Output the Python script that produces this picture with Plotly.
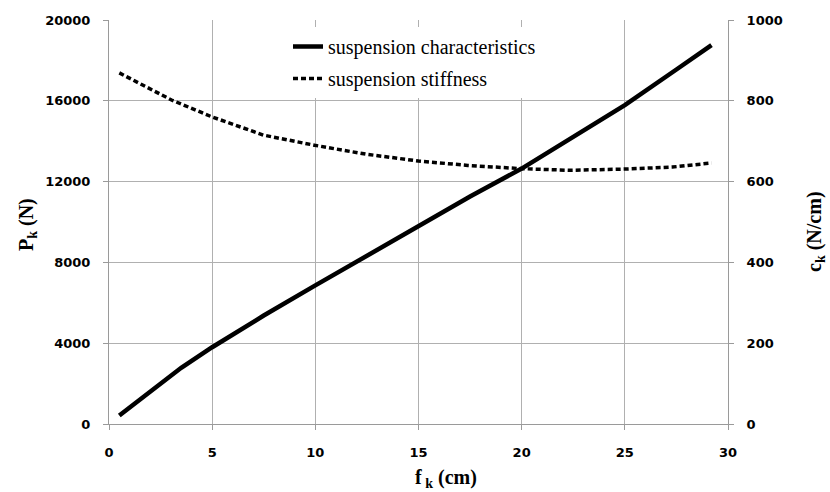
import plotly.graph_objects as go

# deflection f_k (cm) and suspension force P_k (N)
f_char = [0.5, 2.0, 3.5, 5.0, 7.5, 10.0, 12.5, 15.0, 17.5, 20.0, 22.5, 25.0, 27.5, 29.2]
P_char = [420, 1620, 2780, 3800, 5370, 6860, 8340, 9835, 11260, 12645, 14200, 15785, 17550, 18760]

# deflection f_k (cm) and stiffness c_k (N/cm)
f_stiff = [0.5, 3.03, 5.0, 7.49, 9.96, 12.44, 15.0, 17.39, 20.0, 22.3, 25.0, 27.3, 29.2]
c_stiff = [869, 802, 760, 715, 690, 668, 651, 640, 632, 628, 631, 636, 646]

x_ticks = [0, 5, 10, 15, 20, 25, 30]
y_ticks = [0, 4000, 8000, 12000, 16000, 20000]
y2_ticks = [0, 200, 400, 600, 800, 1000]

series_names = ["suspension characteristics", "suspension stiffness"]

W, H = 830, 492
L, R, T, B = 109, 102, 20, 68

fig = go.Figure()
fig.add_trace(go.Scatter(x=f_char, y=P_char, mode="lines", name=series_names[0],
                         line=dict(color="black", width=4.5), legendgroup="a"))
fig.add_trace(go.Scatter(x=f_stiff, y=c_stiff, mode="lines", name=series_names[1],
                         line=dict(color="black", width=3.5, dash="5px,3px"),
                         yaxis="y2", legendgroup="b"))

tickfont = dict(family="DejaVu Sans", size=13, color="black", weight="bold")
grid = "#b0b0b0"
axl = "#9a9a9a"

fig.update_layout(
    width=W, height=H,
    margin=dict(l=L, r=R, t=T, b=B, autoexpand=False),
    paper_bgcolor="white", plot_bgcolor="white",
    showlegend=True,
    legend=dict(x=(288 - L) / (W - L - R), y=(H - B - 27) / (H - B - T),
                xanchor="left", yanchor="top", bgcolor="white", borderwidth=0,
                font=dict(family="Liberation Serif", size=20, color="black"),
                tracegroupgap=3, itemwidth=30),
    xaxis=dict(range=[0, 30], tickvals=x_ticks, ticktext=[str(v) for v in x_ticks],
               showgrid=True, gridcolor=grid, gridwidth=1,
               showline=True, linecolor=axl, linewidth=1,
               ticks="outside", ticklen=5, tickcolor=axl,
               tickfont=tickfont, ticklabelstandoff=11, zeroline=False),
    yaxis=dict(range=[0, 20000], tickvals=y_ticks, ticktext=[str(v) for v in y_ticks],
               showgrid=True, gridcolor=grid, gridwidth=1,
               showline=True, linecolor=axl, linewidth=1,
               ticks="outside", ticklen=5, tickcolor=axl,
               tickfont=tickfont, ticklabelstandoff=10, zeroline=False),
    yaxis2=dict(range=[0, 1000], tickvals=y2_ticks, ticktext=[str(v) for v in y2_ticks],
                overlaying="y", side="right", showgrid=False,
                showline=True, linecolor=axl, linewidth=1,
                ticks="outside", ticklen=5, tickcolor=axl,
                tickfont=tickfont, ticklabelstandoff=10, zeroline=False),
)

title_font = dict(family="Liberation Serif", size=20, color="black", weight="bold")

def px_x(p):
    return (p - L) / (W - L - R)

def px_y(p):
    return (H - B - p) / (H - B - T)

fig.add_annotation(text="f<sub> k</sub> (cm)", xref="paper", yref="paper",
                   x=px_x(446), y=px_y(478), showarrow=False, font=title_font,
                   xanchor="center", yanchor="middle")
fig.add_annotation(text="P<sub>k</sub> (N)", xref="paper", yref="paper",
                   x=px_x(27), y=px_y(225), showarrow=False, font=title_font,
                   textangle=-90, xanchor="center", yanchor="middle")
fig.add_annotation(text="c<sub>k</sub> (N/cm)", xref="paper", yref="paper",
                   x=px_x(815), y=px_y(232), showarrow=False, font=title_font,
                   textangle=-90, xanchor="center", yanchor="middle")

fig.write_html("out.html")
